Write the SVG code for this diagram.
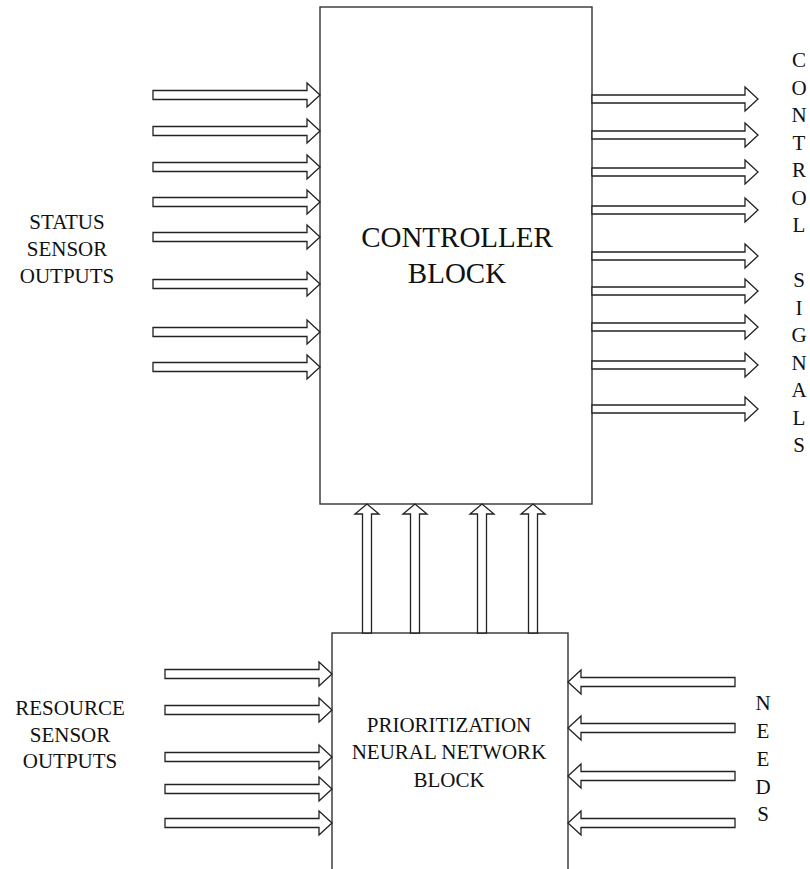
<svg xmlns="http://www.w3.org/2000/svg" width="810" height="869" viewBox="0 0 810 869">
<style>
.box{fill:#fff;stroke:#333;stroke-width:1.4}
.arr{fill:#fff;stroke:#222;stroke-width:1.3;stroke-linejoin:miter}
text{font-family:"Liberation Serif","Times New Roman",serif;fill:#111;text-anchor:middle}
.lbl{font-size:21px}
.big{font-size:29px}
</style>
<rect width="810" height="869" fill="#fff"/>
<g id="controller">
<rect class="box" x="320" y="7" width="272" height="497"/>
<text class="big" x="457" y="247">CONTROLLER</text>
<text class="big" x="457" y="283">BLOCK</text>
</g>
<g id="prioritization">
<rect class="box" x="332" y="633" width="236" height="260"/>
<text class="lbl" x="449" y="732">PRIORITIZATION</text>
<text class="lbl" x="449" y="759">NEURAL NETWORK</text>
<text class="lbl" x="449" y="787">BLOCK</text>
</g>
<g id="status-label">
<text class="lbl" x="67" y="229">STATUS</text>
<text class="lbl" x="67" y="256">SENSOR</text>
<text class="lbl" x="67" y="283">OUTPUTS</text>
</g>
<g id="resource-label">
<text class="lbl" x="70" y="715">RESOURCE</text>
<text class="lbl" x="70" y="742">SENSOR</text>
<text class="lbl" x="70" y="768">OUTPUTS</text>
</g>
<g id="control-signals-label">
<text class="lbl" x="799" y="67">C</text>
<text class="lbl" x="799" y="94.5">O</text>
<text class="lbl" x="799" y="122">N</text>
<text class="lbl" x="799" y="149.5">T</text>
<text class="lbl" x="799" y="177">R</text>
<text class="lbl" x="799" y="204.5">O</text>
<text class="lbl" x="799" y="232">L</text>
<text class="lbl" x="799" y="287">S</text>
<text class="lbl" x="799" y="314.5">I</text>
<text class="lbl" x="799" y="342">G</text>
<text class="lbl" x="799" y="369.5">N</text>
<text class="lbl" x="799" y="397">A</text>
<text class="lbl" x="799" y="424.5">L</text>
<text class="lbl" x="799" y="452">S</text>
</g>
<g id="needs-label">
<text class="lbl" x="763" y="710">N</text>
<text class="lbl" x="763" y="738">E</text>
<text class="lbl" x="763" y="766">E</text>
<text class="lbl" x="763" y="794">D</text>
<text class="lbl" x="763" y="821">S</text>
</g>
<g id="connectors">
<!-- status inputs to controller -->
<polygon class="arr" points="153,90.5 307,90.5 307,83 320,95 307,107 307,99.5 153,99.5"/>
<polygon class="arr" points="153,126.5 307,126.5 307,119 320,131 307,143 307,135.5 153,135.5"/>
<polygon class="arr" points="153,162.5 307,162.5 307,155 320,167 307,179 307,171.5 153,171.5"/>
<polygon class="arr" points="153,197.5 307,197.5 307,190 320,202 307,214 307,206.5 153,206.5"/>
<polygon class="arr" points="153,232.5 307,232.5 307,225 320,237 307,249 307,241.5 153,241.5"/>
<polygon class="arr" points="153,279.5 307,279.5 307,272 320,284 307,296 307,288.5 153,288.5"/>
<polygon class="arr" points="153,327.5 307,327.5 307,320 320,332 307,344 307,336.5 153,336.5"/>
<polygon class="arr" points="153,362.5 307,362.5 307,355 320,367 307,379 307,371.5 153,371.5"/>
<!-- control signal outputs -->
<polygon class="arr" points="592,95 745,95 745,87 758,99 745,111 745,103 592,103"/>
<polygon class="arr" points="592,131 745,131 745,123 758,135 745,147 745,139 592,139"/>
<polygon class="arr" points="592,168 745,168 745,160 758,172 745,184 745,176 592,176"/>
<polygon class="arr" points="592,206 745,206 745,198 758,210 745,222 745,214 592,214"/>
<polygon class="arr" points="592,252 745,252 745,244 758,256 745,268 745,260 592,260"/>
<polygon class="arr" points="592,287 745,287 745,279 758,291 745,303 745,295 592,295"/>
<polygon class="arr" points="592,323 745,323 745,315 758,327 745,339 745,331 592,331"/>
<polygon class="arr" points="592,361 745,361 745,353 758,365 745,377 745,369 592,369"/>
<polygon class="arr" points="592,405 745,405 745,397 758,409 745,421 745,413 592,413"/>
<!-- prioritization to controller -->
<polygon class="arr" points="362.5,633 362.5,514 355,514 367,504 379,514 371.5,514 371.5,633"/>
<polygon class="arr" points="410.5,633 410.5,514 403,514 415,504 427,514 419.5,514 419.5,633"/>
<polygon class="arr" points="477.5,633 477.5,514 470,514 482,504 494,514 486.5,514 486.5,633"/>
<polygon class="arr" points="528.5,633 528.5,514 521,514 533,504 545,514 537.5,514 537.5,633"/>
<!-- resource sensor inputs -->
<polygon class="arr" points="165,669.5 319,669.5 319,662 332,674 319,686 319,678.5 165,678.5"/>
<polygon class="arr" points="165,705.5 319,705.5 319,698 332,710 319,722 319,714.5 165,714.5"/>
<polygon class="arr" points="165,752.5 319,752.5 319,745 332,757 319,769 319,761.5 165,761.5"/>
<polygon class="arr" points="165,784.5 319,784.5 319,777 332,789 319,801 319,793.5 165,793.5"/>
<polygon class="arr" points="165,818.5 319,818.5 319,811 332,823 319,835 319,827.5 165,827.5"/>
<!-- needs inputs -->
<polygon class="arr" points="735,677.5 581,677.5 581,670 568,682 581,694 581,686.5 735,686.5"/>
<polygon class="arr" points="735,723.5 581,723.5 581,716 568,728 581,740 581,732.5 735,732.5"/>
<polygon class="arr" points="735,771.5 581,771.5 581,764 568,776 581,788 581,780.5 735,780.5"/>
<polygon class="arr" points="735,818.5 581,818.5 581,811 568,823 581,835 581,827.5 735,827.5"/>
</g>
</svg>
